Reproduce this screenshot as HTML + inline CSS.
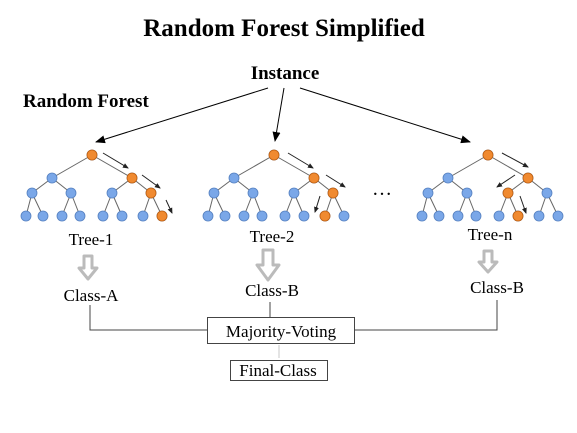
<!DOCTYPE html>
<html><head><style>
body{margin:0;background:#fff;}
svg{display:block}
.t{font-family:"Liberation Serif",serif;}
</style></head><body>
<svg width="577" height="433" viewBox="0 0 577 433" xmlns="http://www.w3.org/2000/svg">
<defs>
<marker id="ah" markerWidth="10" markerHeight="8" refX="9" refY="4" orient="auto" markerUnits="userSpaceOnUse">
<path d="M0,0 L10,4 L0,8 Z" fill="#000"/></marker>
<marker id="sh" markerWidth="6" markerHeight="5" refX="5" refY="2.5" orient="auto" markerUnits="userSpaceOnUse">
<path d="M0,0 L6,2.5 L0,5 Z" fill="#222"/></marker>
<g id="tree">
<g stroke="#666" stroke-width="1">
<line x1="92" y1="155" x2="52" y2="178"/><line x1="92" y1="155" x2="132" y2="178"/>
<line x1="52" y1="178" x2="32" y2="193"/><line x1="52" y1="178" x2="71" y2="193"/>
<line x1="132" y1="178" x2="112" y2="193"/><line x1="132" y1="178" x2="151" y2="193"/>
<line x1="32" y1="193" x2="26" y2="216"/><line x1="32" y1="193" x2="43" y2="216"/>
<line x1="71" y1="193" x2="62" y2="216"/><line x1="71" y1="193" x2="80" y2="216"/>
<line x1="112" y1="193" x2="103" y2="216"/><line x1="112" y1="193" x2="122" y2="216"/>
<line x1="151" y1="193" x2="143" y2="216"/><line x1="151" y1="193" x2="162" y2="216"/>
</g>
<g fill="#7aa7e8" stroke="#5580c0" stroke-width="0.8">
<circle cx="92" cy="155" r="5"/><circle cx="52" cy="178" r="5"/><circle cx="132" cy="178" r="5"/>
<circle cx="32" cy="193" r="5"/><circle cx="71" cy="193" r="5"/><circle cx="112" cy="193" r="5"/><circle cx="151" cy="193" r="5"/>
<circle cx="26" cy="216" r="5"/><circle cx="43" cy="216" r="5"/><circle cx="62" cy="216" r="5"/><circle cx="80" cy="216" r="5"/>
<circle cx="103" cy="216" r="5"/><circle cx="122" cy="216" r="5"/><circle cx="143" cy="216" r="5"/><circle cx="162" cy="216" r="5"/>
</g>
</g>
</defs>
<text x="284" y="36" text-anchor="middle" class="t" font-size="25" font-weight="bold">Random Forest Simplified</text>
<text x="285" y="79" text-anchor="middle" class="t" font-size="19" font-weight="bold">Instance</text>
<text x="23" y="107" class="t" font-size="19" font-weight="bold">Random Forest</text>
<g stroke="#000" stroke-width="1" fill="none">
<line x1="268" y1="88" x2="96" y2="142" marker-end="url(#ah)"/>
<line x1="284" y1="88" x2="275" y2="141" marker-end="url(#ah)"/>
<line x1="300" y1="88" x2="470" y2="142" marker-end="url(#ah)"/>
</g>
<use href="#tree"/>
<g fill="#f08a30" stroke="#c06010" stroke-width="0.8">
<circle cx="92" cy="155" r="5"/><circle cx="132" cy="178" r="5"/><circle cx="151" cy="193" r="5"/><circle cx="162" cy="216" r="5"/></g>
<g stroke="#222" stroke-width="1">
<line x1="103" y1="153" x2="128" y2="168" marker-end="url(#sh)"/>
<line x1="142" y1="175" x2="160" y2="188" marker-end="url(#sh)"/>
<line x1="166" y1="200" x2="172" y2="213" marker-end="url(#sh)"/></g>
<use href="#tree" transform="translate(182,0)"/>
<g fill="#f08a30" stroke="#c06010" stroke-width="0.8">
<circle cx="274" cy="155" r="5"/><circle cx="314" cy="178" r="5"/><circle cx="333" cy="193" r="5"/><circle cx="325" cy="216" r="5"/></g>
<g stroke="#222" stroke-width="1">
<line x1="288" y1="153" x2="313" y2="168" marker-end="url(#sh)"/>
<line x1="326" y1="175" x2="345" y2="187" marker-end="url(#sh)"/>
<line x1="320" y1="196" x2="315" y2="212" marker-end="url(#sh)"/></g>
<use href="#tree" transform="translate(396,0)"/>
<g fill="#f08a30" stroke="#c06010" stroke-width="0.8">
<circle cx="488" cy="155" r="5"/><circle cx="528" cy="178" r="5"/><circle cx="508" cy="193" r="5"/><circle cx="518" cy="216" r="5"/></g>
<g stroke="#222" stroke-width="1">
<line x1="502" y1="153" x2="528" y2="167" marker-end="url(#sh)"/>
<line x1="515" y1="175" x2="497" y2="187" marker-end="url(#sh)"/>
<line x1="520" y1="196" x2="526" y2="213" marker-end="url(#sh)"/></g>
<text x="382" y="195" text-anchor="middle" class="t" font-size="20">…</text>
<g class="t" font-size="17" text-anchor="middle">
<text x="91" y="245">Tree-1</text>
<text x="272" y="242">Tree-2</text>
<text x="490" y="240">Tree-n</text>
<text x="91" y="301">Class-A</text>
<text x="272" y="296">Class-B</text>
<text x="497" y="293">Class-B</text>
<text x="281" y="337">Majority-Voting</text>
<text x="278" y="376">Final-Class</text>
</g>
<g fill="none" stroke="#bbb" stroke-width="3" stroke-linejoin="round">
<path d="M84,256 L92,256 L92,268 L97,268 L88,279 L79,268 L84,268 Z"/>
<path d="M263,250 L273,250 L273,265 L279,265 L268,280 L257,265 L263,265 Z"/>
<path d="M484,251 L492,251 L492,262 L497,262 L488,272 L479,262 L484,262 Z"/>
</g>
<g stroke="#444" stroke-width="1" fill="none">
<polyline points="90,305 90,330 207,330"/>
<line x1="270" y1="302" x2="270" y2="317"/>
<polyline points="354,330 497,330 497,300"/>
<rect x="207.5" y="317.5" width="147" height="26"/>
<rect x="230.5" y="360.5" width="97" height="20"/>
</g>
<line x1="279" y1="345" x2="279" y2="358" stroke="#e4e4e4" stroke-width="2"/>
</svg>
</body></html>
